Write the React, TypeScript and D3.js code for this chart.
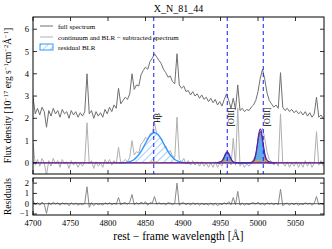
import React from "react";
import * as d3 from "d3";

// spectrum sampled every 3 Å from 4700 Å
const specStart = 4700;
const specStep = 3;

const fullSpectrum = [
  2.95, 2.2, 2.45, 2.15, 2.5, 2.3, 1.6, 2.35, 2.1, 2.45,
  2.2, 2.35, 2.05, 2.4, 2.2, 2.3, 2.0, 2.35, 2.15, 2.3,
  2.05, 2.25, 2.1, 2.3, 4.0, 2.2, 2.35, 2.0, 2.3, 2.1,
  2.25, 2.05, 2.4, 2.2, 2.5, 2.3, 2.6, 2.45, 3.35, 2.65,
  2.8, 2.95, 2.85, 3.1, 4.0, 3.3, 3.5, 3.45, 3.95, 4.15,
  4.3, 4.2, 4.55, 4.7, 4.9, 4.75, 4.6, 4.45, 4.2, 4.05,
  3.85, 3.9, 3.65, 3.55, 4.9, 3.5, 3.35, 3.45, 3.2, 3.25,
  3.05, 3.2, 3.0, 3.1, 2.9, 3.05, 2.85, 2.95, 2.75, 2.9,
  2.7, 2.85, 2.6, 2.75, 2.55, 2.85, 3.1, 2.8, 2.45, 2.9,
  2.4, 3.5, 2.35, 2.45, 2.3, 2.4, 2.35, 2.5, 2.6, 2.8,
  3.2, 3.8, 4.2, 3.75, 3.15, 2.8, 2.65, 2.5, 2.6, 2.45,
  4.05, 2.5, 2.35, 2.45, 2.3, 2.4, 2.25, 2.35, 2.2, 2.3,
  2.15, 2.3, 2.1, 2.25, 2.05, 2.2, 2.95, 2.05, 2.15, 2.0,
];

const subtractedSpectrum = [
  0.9, -0.1, 0.15, -0.15, 0.2, 0.0, -0.55, 0.1, -0.15, 0.2,
  -0.05, 0.1, -0.2, 0.15, -0.05, 0.05, -0.25, 0.1, -0.1, 0.05,
  -0.2, 0.0, -0.15, 0.05, 1.8, -0.05, 0.1, -0.25, 0.05, -0.15,
  0.0, -0.2, 0.15, -0.05, 0.15, -0.1, 0.1, -0.05, 0.7, 0.0,
  0.05, 0.15, 0.05, 0.25, 1.0, 0.35, 0.5, 0.45, 0.85, 0.95,
  1.15, 1.05, 1.3, 1.35, 1.8, 1.3, 1.2, 1.1, 0.85, 0.75,
  0.5, 0.55, 0.3, 0.25, 2.05, 0.15, 0.05, 0.2, -0.05, 0.1,
  -0.1, 0.1, -0.1, 0.05, -0.15, 0.05, -0.15, 0.0, -0.2, 0.0,
  -0.2, 0.05, -0.2, 0.0, -0.15, 0.2, 0.5, 0.3, -0.1, 1.1,
  -0.1, 2.45, -0.15, 0.0, -0.2, -0.05, -0.15, 0.0, 0.15, 0.35,
  0.8, 1.35, 1.55, 1.1, 0.5, 0.15, 0.05, -0.1, 0.05, -0.15,
  2.2, 0.0, -0.15, 0.05, -0.2, 0.0, -0.15, 0.05, -0.2, 0.0,
  -0.2, 0.1, -0.15, 0.05, -0.2, 0.0, 1.4, -0.1, 0.1, -0.15,
];

const residuals = [
  0.3, -0.1, 0.1, -0.15, 0.15, -0.05, -0.95, 0.1, -0.1, 0.15,
  -0.05, 0.1, -0.15, 0.1, -0.05, 0.05, -0.2, 0.1, -0.1, 0.05,
  -0.15, 0.0, -0.1, 0.05, 1.65, -0.35, 0.1, -0.2, 0.05, -0.1,
  0.0, -0.15, 0.1, -0.05, 0.1, -0.1, 0.05, -0.05, 0.6, -0.1,
  0.05, 0.1, -0.05, 0.15, 0.9, -0.1, 0.1, -0.05, 0.15, 0.0,
  0.2, -0.15, 0.1, 0.05, 0.7, -0.05, 0.1, -0.05, 0.05, -0.1,
  0.1, 0.05, -0.1, 0.05, 2.0, -0.15, 0.05, 0.1, -0.1, 0.05,
  -0.15, 0.1, -0.1, 0.05, -0.15, 0.05, -0.1, 0.0, -0.15, 0.05,
  -0.15, 0.05, -0.2, 0.0, -0.1, 0.1, -0.05, 0.2, -0.1, 0.6,
  -0.1, 1.2, -0.15, 0.05, -0.15, 0.0, -0.1, 0.05, 0.1, -0.05,
  0.15, -0.1, 0.05, -0.15, 0.1, -0.05, 0.05, -0.1, 0.05, -0.1,
  1.4, -0.2, 0.0, 0.05, -0.15, 0.05, -0.1, 0.05, -0.15, 0.0,
  -0.1, 0.1, -0.05, 0.05, -0.15, 0.05, 0.7, -0.1, 0.05, -0.1,
];

// residual broad Hbeta, every 4 Å from 4814 Å
const blrStart = 4814;
const blrStep = 4;
const blrFlux = [
  0.0, 0.0, 0.01, 0.03, 0.07, 0.13, 0.25, 0.41, 0.63, 0.88, 1.12, 1.29, 1.35,
  1.29, 1.12, 0.88, 0.63, 0.41, 0.25, 0.13, 0.07, 0.03, 0.01, 0.0, 0.0,
];

// narrow [OIII] models, every 2 Å from 4945 Å
const oiiiStart = 4945;
const oiiiStep = 2;
const oiiiNarrow = [
  0, 0, 0.01, 0.03, 0.1, 0.23, 0.38, 0.45, 0.38, 0.23,
  0.1, 0.03, 0.01, 0, 0, 0, 0, 0, 0, 0,
  0, 0, 0, 0, 0.02, 0.1, 0.32, 0.73, 1.19, 1.4,
  1.19, 0.73, 0.32, 0.1, 0.02, 0, 0, 0, 0, 0,
];
const oiiiWing = [
  0.01, 0.02, 0.03, 0.03, 0.04, 0.05, 0.05, 0.05, 0.04, 0.03,
  0.03, 0.02, 0.01, 0.01, 0, 0, 0, 0, 0, 0,
  0, 0, 0.01, 0.02, 0.03, 0.05, 0.07, 0.09, 0.11, 0.12,
  0.13, 0.12, 0.11, 0.09, 0.07, 0.05, 0.03, 0.02, 0.01, 0,
];
const oiiiTotal = [
  0.01, 0.02, 0.04, 0.06, 0.14, 0.28, 0.43, 0.5, 0.42, 0.26,
  0.13, 0.05, 0.02, 0.01, 0, 0, 0, 0, 0, 0,
  0, 0, 0.01, 0.02, 0.05, 0.15, 0.39, 0.82, 1.3, 1.52,
  1.32, 0.85, 0.43, 0.19, 0.09, 0.05, 0.03, 0.02, 0.01, 0,
];

// small narrow Hbeta wing, every 3 Å from 4852 Å
const hbStart = 4852;
const hbStep = 3;
const hbWing = [0, 0.01, 0.03, 0.04, 0.03, 0.01, 0];

const lineCentres = [4861, 4959, 5007];
const lineNames = ["Hβ", "[OIII]", "[OIII]"];

const xTicks = [4700, 4750, 4800, 4850, 4900, 4950, 5000, 5050];
const fluxTicks = [0, 1, 2, 3, 4, 5, 6];
const residTicks = [-1, 0, 1, 2];

const W = 332;
const H = 249;
const left = 33;
const right = 324;
const mainTop = 17;
const mainBottom = 174;
const resTop = 178;
const resBottom = 215;
const font = "'Liberation Serif', 'DejaVu Serif', serif";

export default function App() {
  const x = d3.scaleLinear().domain([4700, 5088]).range([left, right]);
  const y = d3.scaleLinear().domain([-0.5, 6.55]).range([mainBottom, mainTop]);
  const yr = d3.scaleLinear().domain([-1.1, 2.5]).range([resBottom, resTop]);

  const series = (start: number, step: number, ys: d3.ScaleLinear<number, number>) =>
    d3.line<number>().x((_, i) => x(start + i * step)).y((d) => ys(d));

  const spec = series(specStart, specStep, y);
  const res = series(specStart, specStep, yr);
  const blrLine = series(blrStart, blrStep, y).curve(d3.curveMonotoneX);
  const blrArea = d3
    .area<number>()
    .x((_, i) => x(blrStart + i * blrStep))
    .y0(y(0))
    .y1((d) => y(d))
    .curve(d3.curveMonotoneX);
  const oiii = series(oiiiStart, oiiiStep, y).curve(d3.curveMonotoneX);
  const oiiiArea = d3
    .area<number>()
    .x((_, i) => x(oiiiStart + i * oiiiStep))
    .y0(y(0))
    .y1((d) => y(d))
    .curve(d3.curveMonotoneX);
  const hb = series(hbStart, hbStep, y).curve(d3.curveMonotoneX);

  const [x0, x1] = x.domain();

  const frameTicks = (ys: d3.ScaleLinear<number, number>, ticks: number[], top: number, bottom: number, showX: boolean) => (
    <g>
      {xTicks.map((t) => (
        <g key={"x" + t}>
          <line x1={x(t)} x2={x(t)} y1={bottom} y2={bottom - 4} stroke="#000" strokeWidth={0.8} />
          <line x1={x(t)} x2={x(t)} y1={top} y2={top + 4} stroke="#000" strokeWidth={0.8} />
          {showX && (
            <text x={x(t)} y={bottom + 11} fontSize={8.5} textAnchor="middle" fontFamily={font}>
              {t}
            </text>
          )}
        </g>
      ))}
      {ticks.map((t) => (
        <g key={"y" + t}>
          <line x1={left} x2={left + 4} y1={ys(t)} y2={ys(t)} stroke="#000" strokeWidth={0.8} />
          <line x1={right} x2={right - 4} y1={ys(t)} y2={ys(t)} stroke="#000" strokeWidth={0.8} />
          <text x={left - 4} y={ys(t) + (t < 0 ? 2 : 3)} fontSize={8.5} textAnchor="end" fontFamily={font}>
            {t < 0 ? "−" + Math.abs(t) : t}
          </text>
        </g>
      ))}
      <rect x={left} y={top} width={right - left} height={bottom - top} fill="none" stroke="#000" strokeWidth={1} />
    </g>
  );

  return (
    <svg width={W} height={H} style={{ position: "absolute", left: 0, top: 0, background: "#fff" }}>
      <defs>
        <clipPath id="mainClip">
          <rect x={left} y={mainTop} width={right - left} height={mainBottom - mainTop} />
        </clipPath>
        <clipPath id="resClip">
          <rect x={left} y={resTop} width={right - left} height={resBottom - resTop} />
        </clipPath>
        <pattern id="hatch" patternUnits="userSpaceOnUse" width={5} height={5} patternTransform="rotate(45)">
          <line x1={0} y1={0} x2={0} y2={5} stroke="#3399ff" strokeWidth={0.9} />
        </pattern>
      </defs>

      <rect width={W} height={H} fill="#fff" />

      {/* main panel */}
      <g clipPath="url(#mainClip)">
        <path d={spec(fullSpectrum) ?? ""} fill="none" stroke="#707070" strokeWidth={1} />
        <path d={spec(subtractedSpectrum) ?? ""} fill="none" stroke="#b0b0b0" strokeWidth={1} />
        <path d={blrArea(blrFlux) ?? ""} fill="url(#hatch)" stroke="none" />
        <path d={blrLine(blrFlux) ?? ""} fill="none" stroke="#3399ff" strokeWidth={1.4} />
        <path d={oiiiArea(oiiiNarrow) ?? ""} fill="#5aaef0" stroke="none" />
        <line x1={x(x0)} x2={x(x1)} y1={y(0)} y2={y(0)} stroke="#e0301e" strokeWidth={1.2} />
        <path d={oiii(oiiiNarrow) ?? ""} fill="none" stroke="#e0301e" strokeWidth={1.2} />
        <path d={oiii(oiiiWing) ?? ""} fill="none" stroke="#ff9a1a" strokeWidth={1.2} />
        <path d={hb(hbWing) ?? ""} fill="none" stroke="#ff9a1a" strokeWidth={1.2} />
        <line x1={x(x0)} x2={x(x1)} y1={y(0)} y2={y(0)} stroke="#2a2ad0" strokeWidth={1} />
        <path d={oiii(oiiiTotal) ?? ""} fill="none" stroke="#2a2ad0" strokeWidth={1.1} />
        {lineCentres.map((c) => (
          <line key={c} x1={x(c)} x2={x(c)} y1={mainTop} y2={mainBottom} stroke="#1a1aff" strokeWidth={1} strokeDasharray="4,3" />
        ))}
      </g>
      {lineCentres.map((c, i) => (
        <text
          key={"l" + c}
          transform={`translate(${x(c) + 6.5},${i === 0 ? 118 : 117}) rotate(-90)`}
          fontSize={8}
          textAnchor="middle"
          fontFamily={font}
        >
          {lineNames[i]}
        </text>
      ))}
      {frameTicks(y, fluxTicks, mainTop, mainBottom, false)}

      {/* legend */}
      <g fontFamily={font} fontSize={7}>
        <line x1={40} x2={53} y1={26} y2={26} stroke="#707070" strokeWidth={1} />
        <text x={58} y={28.5}>full spectrum</text>
        <line x1={40} x2={53} y1={37} y2={37} stroke="#b0b0b0" strokeWidth={1} />
        <text x={58} y={39.5}>continuum and BLR − subtracted spectrum</text>
        <rect x={40} y={44} width={13} height={6} fill="url(#hatch)" stroke="#3399ff" strokeWidth={1} />
        <text x={58} y={50}>residual BLR</text>
      </g>

      {/* residual panel */}
      <g clipPath="url(#resClip)">
        <path d={res(residuals) ?? ""} fill="none" stroke="#8a8a8a" strokeWidth={1} />
        <line x1={x(x0)} x2={x(x1)} y1={yr(0)} y2={yr(0)} stroke="#333" strokeWidth={0.8} />
      </g>
      {frameTicks(yr, residTicks, resTop, resBottom, true)}

      {/* labels */}
      <text x={(left + right) / 2} y={12} fontSize={10} textAnchor="middle" fontFamily={font}>
        X_N_81_44
      </text>
      <text x={(left + right) / 2} y={240} fontSize={11.5} textAnchor="middle" fontFamily={font}>
        rest − frame wavelength [Å]
      </text>
      <text transform={`translate(11,${(mainTop + mainBottom) / 2}) rotate(-90)`} fontSize={9.5} textAnchor="middle" fontFamily={font}>
        Flux density [10
        <tspan baselineShift="super" fontSize={6.5}>−17</tspan> erg s
        <tspan baselineShift="super" fontSize={6.5}>−1</tspan>cm
        <tspan baselineShift="super" fontSize={6.5}>−2</tspan>Å
        <tspan baselineShift="super" fontSize={6.5}>−1</tspan>]
      </text>
      <text transform={`translate(11,${(resTop + resBottom) / 2}) rotate(-90)`} fontSize={9.5} textAnchor="middle" fontFamily={font}>
        Residuals
      </text>
    </svg>
  );
}
